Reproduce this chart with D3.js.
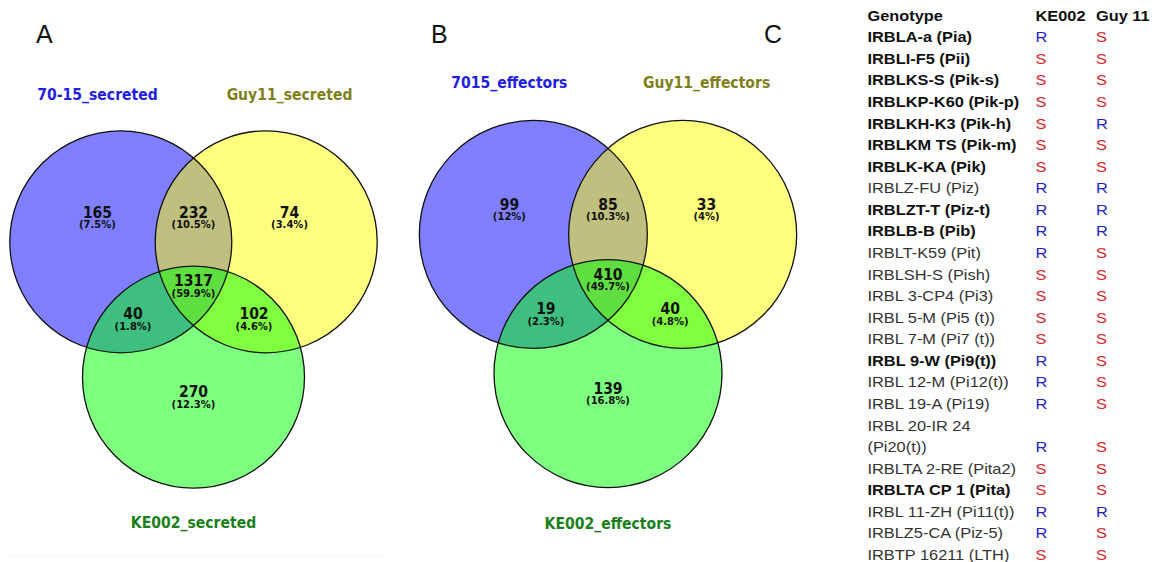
<!DOCTYPE html>
<html>
<head>
<meta charset="utf-8">
<script src="https://cdn.jsdelivr.net/npm/d3@7"></script>
<style>
  html, body { margin: 0; padding: 0; background: #fff; }
  svg { display: block; }
</style>
</head>
<body>
<svg id="fig" width="1156" height="562"></svg>
<script>
// ---- data ----
// regions: only1, 1&2, only2, 1&3, all, 2&3, only3
var setsA   = ["70-15_secreted", "Guy11_secreted", "KE002_secreted"];
var countsA = [165, 232, 74, 40, 1317, 102, 270];
var pctsA   = ["7.5%", "10.5%", "3.4%", "1.8%", "59.9%", "4.6%", "12.3%"];

var setsB   = ["7015_effectors", "Guy11_effectors", "KE002_effectors"];
var countsB = [99, 85, 33, 19, 410, 40, 139];
var pctsB   = ["12%", "10.3%", "4%", "2.3%", "49.7%", "4.8%", "16.8%"];

var tableHead = ["Genotype", "KE002", "Guy 11"];
var genotypes = [
  "IRBLA-a (Pia)", "IRBLI-F5 (Pii)", "IRBLKS-S (Pik-s)", "IRBLKP-K60 (Pik-p)",
  "IRBLKH-K3 (Pik-h)", "IRBLKM TS (Pik-m)", "IRBLK-KA (Pik)", "IRBLZ-FU (Piz)",
  "IRBLZT-T (Piz-t)", "IRBLB-B (Pib)", "IRBLT-K59 (Pit)", "IRBLSH-S (Pish)",
  "IRBL 3-CP4 (Pi3)", "IRBL 5-M (Pi5 (t))", "IRBL 7-M (Pi7 (t))", "IRBL 9-W (Pi9(t))",
  "IRBL 12-M (Pi12(t))", "IRBL 19-A (Pi19)", "IRBL 20-IR 24\n(Pi20(t))", "IRBLTA 2-RE (Pita2)",
  "IRBLTA CP 1 (Pita)", "IRBL 11-ZH (Pi11(t))", "IRBLZ5-CA (Piz-5)", "IRBTP 16211 (LTH)"
];
var boldRows = [1,1,1,1, 1,1,1,0, 1,1,0,0, 0,0,0,1, 0,0,0,0, 1,0,0,0];
var ke002    = ["R","S","S","S","S","S","S","R","R","R","R","S","S","S","S","R","R","R","R","S","S","R","R","S"];
var guy11    = ["S","S","S","S","R","S","S","R","R","R","S","S","S","S","S","S","S","S","S","S","S","R","S","S"];

var panelLetters = [["A", 36, 34], ["B", 431, 34], ["C", 764, 34]];

// ---- layout ----
var svg = d3.select("#fig");
var vennFont = "'DejaVu Sans', Verdana, sans-serif";
var tabFont  = "'Liberation Sans', Arial, sans-serif";

var circleLayout = [
  { x: -0.655, y: -0.61, fill: "#0000ff" },
  { x:  0.655, y: -0.61, fill: "#ffff00" },
  { x:  0,     y:  0.61, fill: "#00ff00" }
];
var regionPos = [[-0.865,-0.875],[0,-0.875],[0.865,-0.875],[-0.545,0.04],[0,-0.26],[0.545,0.04],[0,0.74]];
var namePos   = [[-0.865,-1.94],[0.865,-1.94],[0,1.92]];
var nameColor = ["#2020e0", "#7f7f1a", "#1a7f1a"];

function drawVenn(cx, cy, s, names, counts, pcts) {
  var x = d3.scaleLinear().domain([-1, 1]).range([cx - s, cx + s]);
  var y = d3.scaleLinear().domain([-1, 1]).range([cy - s, cy + s]);
  var g = svg.append("g");

  g.selectAll("circle.fill").data(circleLayout).enter().append("circle")
    .attr("cx", function(d) { return x(d.x); })
    .attr("cy", function(d) { return y(d.y); })
    .attr("r", s)
    .attr("fill", function(d) { return d.fill; })
    .attr("fill-opacity", 0.5);
  g.selectAll("circle.edge").data(circleLayout).enter().append("circle")
    .attr("cx", function(d) { return x(d.x); })
    .attr("cy", function(d) { return y(d.y); })
    .attr("r", s)
    .attr("fill", "none")
    .attr("stroke", "#111")
    .attr("stroke-width", 1.3);

  var lab = g.selectAll("g.region").data(counts).enter().append("g")
    .attr("transform", function(d, i) { return "translate(" + x(regionPos[i][0]) + "," + y(regionPos[i][1]) + ")"; });
  lab.append("text")
    .attr("text-anchor", "middle")
    .attr("dy", "0.36em")
    .attr("transform", "scale(1,1.1)")
    .style("font", "bold 14px " + vennFont)
    .attr("fill", "#111")
    .text(function(d) { return d; });
  lab.append("text")
    .attr("text-anchor", "middle")
    .attr("y", 12.5)
    .attr("dy", "0.36em")
    .style("font", "bold 10px " + vennFont)
    .attr("fill", "#111")
    .text(function(d, i) { return "(" + pcts[i] + ")"; });

  g.selectAll("text.name").data(names).enter().append("text")
    .attr("text-anchor", "middle")
    .attr("transform", function(d, i) { return "translate(" + x(namePos[i][0]) + "," + y(namePos[i][1]) + ") scale(1,1.12)"; })
    .attr("dy", "0.36em")
    .style("font", "bold 14px " + vennFont)
    .attr("fill", function(d, i) { return nameColor[i]; })
    .text(function(d) { return d; });
}

// faint panel frame line under A
svg.append("line").attr("x1", 5).attr("x2", 383).attr("y1", 556).attr("y2", 556)
  .attr("stroke", "#f6f6f6").attr("stroke-width", 1);

drawVenn(193.5, 309.5, 111, setsA, countsA, pctsA);
drawVenn(608, 304, 114, setsB, countsB, pctsB);

svg.selectAll("text.letter").data(panelLetters).enter().append("text")
  .attr("x", function(d) { return d[1]; })
  .attr("y", function(d) { return d[2]; })
  .attr("dy", "0.36em")
  .style("font", "25px " + tabFont)
  .attr("fill", "#111")
  .text(function(d) { return d[0]; });

// ---- table ----
var lines = [];
lines.push({ cells: tableHead, bold: true, head: true });
genotypes.forEach(function(gt, i) {
  var parts = gt.split("\n");
  parts.forEach(function(p, k) {
    var last = k === parts.length - 1;
    lines.push({ cells: [p, last ? ke002[i] : "", last ? guy11[i] : ""], bold: !!boldRows[i], head: false });
  });
});

var rowY = d3.scaleLinear().domain([0, lines.length - 1]).range([15.7, 555]);
var colX = [867.5, 1035.5, 1096];
var resColor = { R: "#2424c8", S: "#dc1e28" };

var tab = svg.append("g");
var rows = tab.selectAll("g.row").data(lines).enter().append("g")
  .attr("transform", function(d, i) { return "translate(0," + rowY(i) + ")"; });

rows.each(function(d) {
  var row = d3.select(this);
  d.cells.forEach(function(c, j) {
    if (!c) return;
    var isRes = !d.head && j > 0;
    row.append("text")
      .attr("transform", "translate(" + colX[j] + ",0) scale(1.17,1)")
      .attr("dy", "0.36em")
      .style("font", ((d.bold && !isRes) ? "bold " : "") + "14px " + tabFont)
      .attr("fill", isRes ? resColor[c] : (d.bold ? "#111" : "#333"))
      .text(c);
  });
});
</script>
</body>
</html>
